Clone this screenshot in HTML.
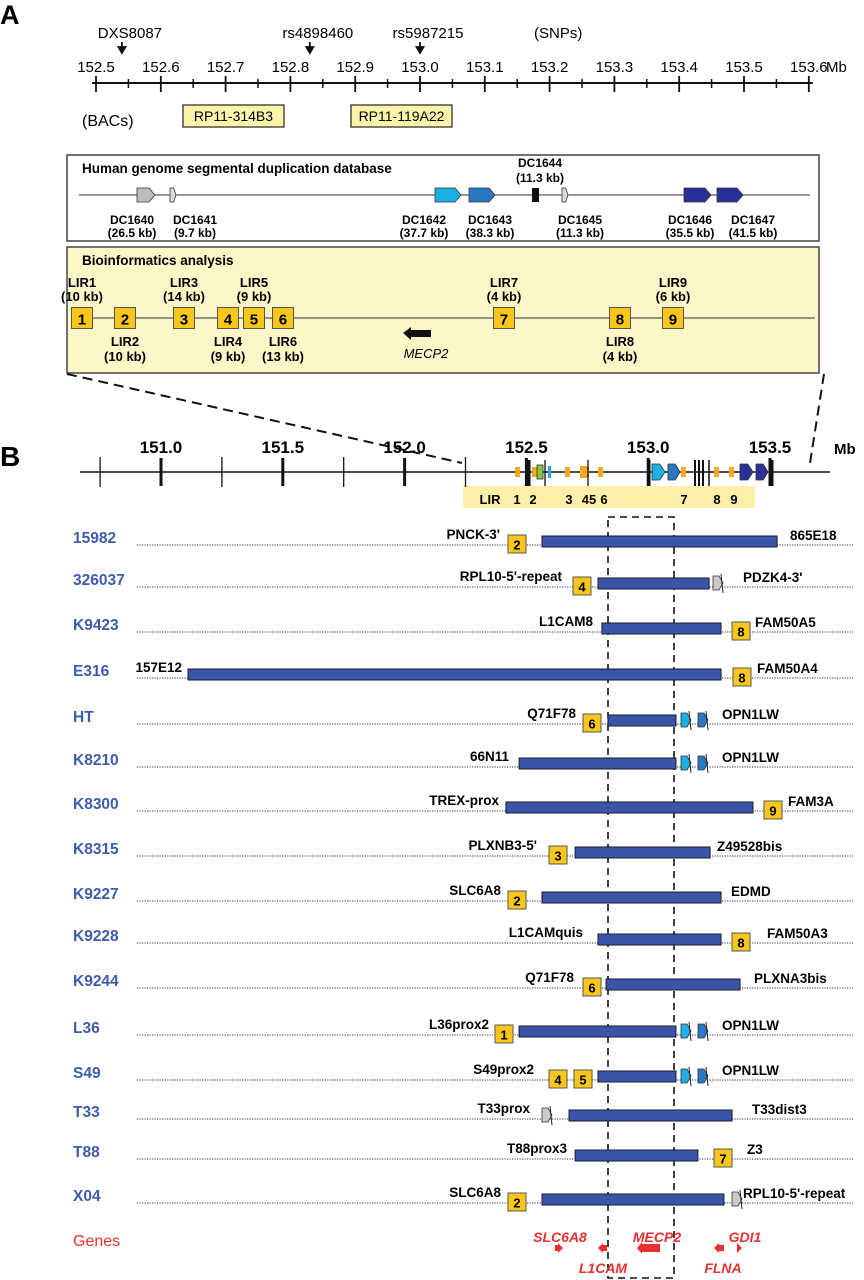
<!DOCTYPE html>
<html><head><meta charset="utf-8">
<style>
html,body{margin:0;padding:0;background:#fff;}
svg{display:block;font-family:"Liberation Sans",Arial,sans-serif;}
</style></head>
<body>
<svg id="fig" width="864" height="1280" viewBox="0 0 864 1280" xmlns="http://www.w3.org/2000/svg"></svg>
<script>
// ---------- data ----------
const aTickLabels = ["152.5","152.6","152.7","152.8","152.9","153.0","153.1","153.2","153.3","153.4","153.5","153.6"];
const aTickValues = [152.5,152.6,152.7,152.8,152.9,153.0,153.1,153.2,153.3,153.4,153.5,153.6];
const snpNames = ["DXS8087","rs4898460","rs5987215"];
const snpMb = [152.54,152.83,153.0];
const bTickLabels = ["151.0","151.5","152.0","152.5","153.0","153.5"];
const bTickValues = [151.0,151.5,152.0,152.5,153.0,153.5];
const rowNames = ["15982","326037","K9423","E316","HT","K8210","K8300","K8315","K9227","K9228","K9244","L36","S49","T33","T88","X04"];
const barStartMb = [152.564,152.794,152.810,151.111,152.835,152.470,152.416,152.700,152.564,152.794,152.827,152.470,152.794,152.675,152.700,152.564];
const barEndMb   = [153.529,153.250,153.299,153.299,153.114,153.114,153.430,153.254,153.299,153.299,153.377,153.114,153.114,153.344,153.204,153.311];

// ---------- helpers ----------
const NS="http://www.w3.org/2000/svg";
const svg=document.getElementById('fig');
function mk(tag,attrs,parent,txt){const e=document.createElementNS(NS,tag);for(const k in attrs)e.setAttribute(k,attrs[k]);if(txt!==undefined)e.textContent=txt;(parent||svg).appendChild(e);return e;}
const xA = mb => 96 + (mb-152.5)*648;
const xB = mb => 161 + (mb-151)*243.6;

// ---------- Panel A ----------
let t=mk('text',{x:0,y:24,'font-size':27,'font-weight':'bold'},svg,'A');



let ax=mk('line',{x1:xA(152.5)-4,y1:83,x2:xA(153.6)+4,y2:83,stroke:'#111','stroke-width':2});


aTickValues.forEach((v,i)=>{
  const x=xA(v);
  const tk=mk('line',{x1:x,y1:76,x2:x,y2:92,stroke:'#111','stroke-width':1.8});
  
  
  const lb=mk('text',{x:x,y:72,'font-size':15,'text-anchor':'middle'},svg,aTickLabels[i]);
  
  
  if(i<aTickValues.length-1){
    const xm=xA(v+0.05);
    const mt=mk('line',{x1:xm,y1:79,x2:xm,y2:88,stroke:'#111','stroke-width':1.5});
    
    
  }
});
t=mk('text',{x:826,y:72,'font-size':15},svg,'Mb');


snpNames.forEach((n,i)=>{
  const x=xA(snpMb[i]);
  const lb=mk('text',{x:x+8,y:38,'font-size':15,'text-anchor':'middle'},svg,n);
  
  
  const ar=mk('path',{d:`M${x} 42 L${x} 50 M${x-3.5} 47 L${x} 53 L${x+3.5} 47 Z`,stroke:'#111','stroke-width':1.8,fill:'#111'});
  
  
});
t=mk('text',{x:534,y:38,'font-size':15},svg,'(SNPs)');


t=mk('text',{x:82,y:126,'font-size':16},svg,'(BACs)');


[["RP11-314B3",183,284],["RP11-119A22",351,452]].forEach(b=>{
  const g=mk('g',{});
  
  
  mk('rect',{x:b[1],y:105,width:b[2]-b[1],height:22,fill:'#fbf3a8',stroke:'#333','stroke-width':1.3},g);
  mk('text',{x:(b[1]+b[2])/2,y:121,'font-size':14,'text-anchor':'middle'},g,b[0]);
});

// Segmental duplication box
let bx=mk('rect',{x:67,y:155,width:752,height:86,fill:'#fff',stroke:'#444','stroke-width':1.5});


t=mk('text',{x:82,y:173,'font-size':13.5,'font-weight':'bold'},svg,'Human genome segmental duplication database');


mk('line',{x1:79,y1:195,x2:810,y2:195,stroke:'#333','stroke-width':1});
function arrowShape(x,w,yc,h,fill,parent){
  const p=Math.min(6,w*0.4);
  return mk('path',{d:`M${x} ${yc-h/2} L${x+w-p} ${yc-h/2} L${x+w} ${yc} L${x+w-p} ${yc+h/2} L${x} ${yc+h/2} Z`,fill:fill,stroke:'#333','stroke-width':0.8},parent);
}
const dcs=[[137,18,'#b8bcc4'],[170,6,'#d8dae8'],[435,26,'#1cb0e6'],[469,26,'#2a78c4'],[562,6,'#d8dae8'],[684,27,'#2a2f9a'],[717,26,'#2a2f9a']];
dcs.forEach(d=>{const a=arrowShape(d[0],d[1],195,14,d[2]);});
let blk=mk('rect',{x:532,y:188,width:7,height:14,fill:'#111'});


const dcl=[["DC1640","(26.5 kb)",132],["DC1641","(9.7 kb)",195],["DC1642","(37.7 kb)",424],["DC1643","(38.3 kb)",490],["DC1645","(11.3 kb)",580],["DC1646","(35.5 kb)",690],["DC1647","(41.5 kb)",753]];
dcl.forEach(d=>{
  const g=mk('g',{});
  
  
  mk('text',{x:d[2],y:224,'font-size':12,'font-weight':'bold','text-anchor':'middle'},g,d[0]);
  mk('text',{x:d[2],y:237,'font-size':12,'font-weight':'bold','text-anchor':'middle'},g,d[1]);
});
let g44=mk('g',{});


mk('text',{x:540,y:167,'font-size':12,'font-weight':'bold','text-anchor':'middle'},g44,'DC1644');
mk('text',{x:540,y:182,'font-size':12,'font-weight':'bold','text-anchor':'middle'},g44,'(11.3 kb)');

// Bioinformatics box
bx=mk('rect',{x:67,y:247,width:752,height:126,fill:'#fdf6c6',stroke:'#444','stroke-width':1.5});


t=mk('text',{x:82,y:265,'font-size':13.5,'font-weight':'bold'},svg,'Bioinformatics analysis');


mk('line',{x1:71,y1:318,x2:815,y2:318,stroke:'#333','stroke-width':1});
const lirs=[[1,82,'(10 kb)',1],[2,125,'(10 kb)',0],[3,184,'(14 kb)',1],[4,228,'(9 kb)',0],[5,254,'(9 kb)',1],[6,283,'(13 kb)',0],[7,504,'(4 kb)',1],[8,620,'(4 kb)',0],[9,673,'(6 kb)',1]];
function lirBox(n,xc,yc,s,parent){
  const g=mk('g',{},parent);
  mk('rect',{x:xc-s/2,y:yc-s/2,width:s,height:s,fill:'#f9c61c',stroke:'#555','stroke-width':1},g);
  mk('text',{x:xc,y:yc+s*0.3,'font-size':s*0.72,'font-weight':'bold','text-anchor':'middle'},g,String(n));
  return g;
}
lirs.forEach(l=>{
  const b=lirBox(l[0],l[1],318,21);
  
  
  const y1=l[3]?287:346, y2=l[3]?301:361;
  const g=mk('g',{});
  
  
  mk('text',{x:l[1],y:y1,'font-size':13,'font-weight':'bold','text-anchor':'middle'},g,'LIR'+l[0]);
  mk('text',{x:l[1],y:y2,'font-size':13,'font-weight':'bold','text-anchor':'middle'},g,l[2]);
});
let mec=mk('path',{d:'M403 333 L411 327 L411 330 L431 330 L431 337 L411 337 L411 340 Z',fill:'#111'});


t=mk('text',{x:426,y:358,'font-size':13,'font-style':'italic','text-anchor':'middle'},svg,'MECP2');



// zoom lines
let zl=mk('line',{x1:67,y1:374,x2:462,y2:463,stroke:'#111','stroke-width':2,'stroke-dasharray':'10,6'});


zl=mk('line',{x1:824,y1:374,x2:810,y2:463,stroke:'#111','stroke-width':2,'stroke-dasharray':'10,6'});



// ---------- Panel B ----------
t=mk('text',{x:0,y:466,'font-size':28,'font-weight':'bold'},svg,'B');


let band=mk('rect',{x:463,y:486,width:292,height:22,fill:'#fcf0a8'});


ax=mk('line',{x1:80,y1:472,x2:830,y2:472,stroke:'#111','stroke-width':1.6});


bTickValues.forEach((v,i)=>{
  const x=xB(v);
  const tk=mk('line',{x1:x,y1:458,x2:x,y2:486,stroke:'#111','stroke-width':3});
  
  
  const lb=mk('text',{x:x,y:453,'font-size':17,'font-weight':'bold','text-anchor':'middle'},svg,bTickLabels[i]);
  
  
});
[150.75,151.25,151.75,152.25].forEach(v=>{
  const x=xB(v);
  const tk=mk('line',{x1:x,y1:457,x2:x,y2:487,stroke:'#111','stroke-width':1.3});
  
  
});
t=mk('text',{x:834,y:454,'font-size':15,'font-weight':'bold'},svg,'Mb');


// features on axis
[517,534,567,600,683,716,731].forEach(x=>{const r=mk('rect',{x:x-2,y:467,width:5,height:10,fill:'#f5a623'});});
let r=mk('rect',{x:580,y:466,width:9,height:12,fill:'#f5a623'});


r=mk('rect',{x:537,y:465,width:6,height:14,fill:'#8cc63f',stroke:'#333','stroke-width':0.8});


r=mk('rect',{x:548,y:466,width:3,height:12,fill:'#1cb0e6'});


[[529,3],[649,3],[695,2],[699,2],[703,2],[709,1.5],[772,3],[588,1.3],[545,1.3]].forEach(b=>{
  const l=mk('line',{x1:b[0],y1:460,x2:b[0],y2:486,stroke:'#111','stroke-width':b[1]});
  
  
});
[[652,13,'#1cb0e6'],[668,12,'#2a78c4'],[740,13,'#2a2f9a'],[756,12,'#2a2f9a']].forEach(a=>{
  const s=arrowShape(a[0],a[1],472,16,a[2]);
  
  
});
[["LIR",490],["1",517],["2",533],["3",569],["45",589],["6",604],["7",684],["8",717],["9",734]].forEach(l=>{
  const tt=mk('text',{x:l[1],y:504,'font-size':13,'font-weight':'bold','text-anchor':'middle'},svg,l[0]);
  
  
});

// dashed MECP2 window
let win=mk('path',{d:'M608 517 L674 517 L674 1278 L608 1278 Z',fill:'none',stroke:'#111','stroke-width':1.6,'stroke-dasharray':'7,5'});



// rows
const rowY=[545,587,632,678,724,767,811,856,901,943,988,1035,1080,1119,1159,1203];
const ann=[
 {l:["PNCK-3'",500],r:["865E18",790],box:[[2,517]],arr:[]},
 {l:["RPL10-5'-repeat",562],r:["PDZK4-3'",743],box:[[4,582]],arr:[[713,'#c8cace']]},
 {l:["L1CAM8",593],r:["FAM50A5",755],box:[[8,741]],arr:[]},
 {l:["157E12",182],r:["FAM50A4",757],box:[[8,742]],arr:[]},
 {l:["Q71F78",576],r:["OPN1LW",722],box:[[6,592]],arr:[[681,'#1cb0e6'],[698,'#2a78c4']]},
 {l:["66N11",509],r:["OPN1LW",722],box:[],arr:[[681,'#1cb0e6'],[698,'#2a78c4']]},
 {l:["TREX-prox",499],r:["FAM3A",788],box:[[9,773]],arr:[]},
 {l:["PLXNB3-5'",537],r:["Z49528bis",717],box:[[3,558]],arr:[]},
 {l:["SLC6A8",501],r:["EDMD",731],box:[[2,517]],arr:[]},
 {l:["L1CAMquis",583],r:["FAM50A3",767],box:[[8,741]],arr:[]},
 {l:["Q71F78",574],r:["PLXNA3bis",754],box:[[6,592]],arr:[]},
 {l:["L36prox2",489],r:["OPN1LW",722],box:[[1,504]],arr:[[681,'#1cb0e6'],[698,'#2a78c4']]},
 {l:["S49prox2",534],r:["OPN1LW",722],box:[[4,558],[5,583]],arr:[[681,'#1cb0e6'],[698,'#2a78c4']]},
 {l:["T33prox",530],r:["T33dist3",752],box:[],arr:[[542,'#c8cace']]},
 {l:["T88prox3",567],r:["Z3",747],box:[[7,723]],arr:[]},
 {l:["SLC6A8",501],r:["RPL10-5'-repeat",743],box:[[2,517]],arr:[[732,'#c8cace']]}
];
rowNames.forEach((n,i)=>{
  const y=rowY[i];
  const g=mk('g',{});
  
  
  const nm=mk('text',{x:73,y:y-2,'font-size':15.5,'font-weight':'bold',fill:'#3d5cab'},g,n);
  
  
  const dl=mk('line',{x1:137,y1:y,x2:853,y2:y,stroke:'#333','stroke-width':1,'stroke-dasharray':'1.2,1.3'},g);
  
  
  const x1=xB(barStartMb[i]), x2=xB(barEndMb[i]);
  const bar=mk('rect',{x:x1,y:y-9,width:x2-x1,height:11,fill:'#3a56a8',stroke:'#1a1a2a','stroke-width':1},g);
  
  
  const a=ann[i];
  const ll=mk('text',{x:a.l[1],y:y-6,'font-size':13.5,'font-weight':'bold','text-anchor':'end'},g,a.l[0]);
  
  
  const rl=mk('text',{x:a.r[1],y:y-5,'font-size':13.5,'font-weight':'bold'},g,a.r[0]);
  
  
  a.box.forEach(b=>{
    const bb=lirBox(b[0],b[1],y-1,18,g);
    
    
  });
  a.arr.forEach(ar=>{
    const s=arrowShape(ar[0],10,y-4,14,ar[1],g);
    
    
    mk('line',{x1:ar[0]+8,y1:y-13,x2:ar[0]+10,y2:y+6,stroke:'#222','stroke-width':1},g);
  });
});

// Genes
t=mk('text',{x:73,y:1246,'font-size':16,fill:'#e83030'},svg,'Genes');


const genes=[["SLC6A8",560,1242,'r',555,7],["L1CAM",603,1273,'l',598,9],["MECP2",657,1242,'l',637,23],["FLNA",723,1273,'l',714,10],["GDI1",745,1242,'r',737,4]];
genes.forEach(gn=>{
  const g=mk('g',{});
  
  
  mk('text',{x:gn[1],y:gn[2],'font-size':14,'font-weight':'bold','font-style':'italic',fill:'#e83030','text-anchor':'middle'},g,gn[0]);
  const x=gn[4], w=gn[5], yc=1248, h=gn[0]==='MECP2'?8:6;
  const d= gn[3]==='r'
    ? `M${x} ${yc-h/2} L${x+w-4} ${yc-h/2} L${x+w-4} ${yc-h/2-2} L${x+w+1} ${yc} L${x+w-4} ${yc+h/2+2} L${x+w-4} ${yc+h/2} L${x} ${yc+h/2} Z`
    : `M${x+w} ${yc-h/2} L${x+5} ${yc-h/2} L${x+5} ${yc-h/2-2} L${x} ${yc} L${x+5} ${yc+h/2+2} L${x+5} ${yc+h/2} L${x+w} ${yc+h/2} Z`;
  mk('path',{d:d,fill:'#e83030'},g);
});
</script>
</body></html>
